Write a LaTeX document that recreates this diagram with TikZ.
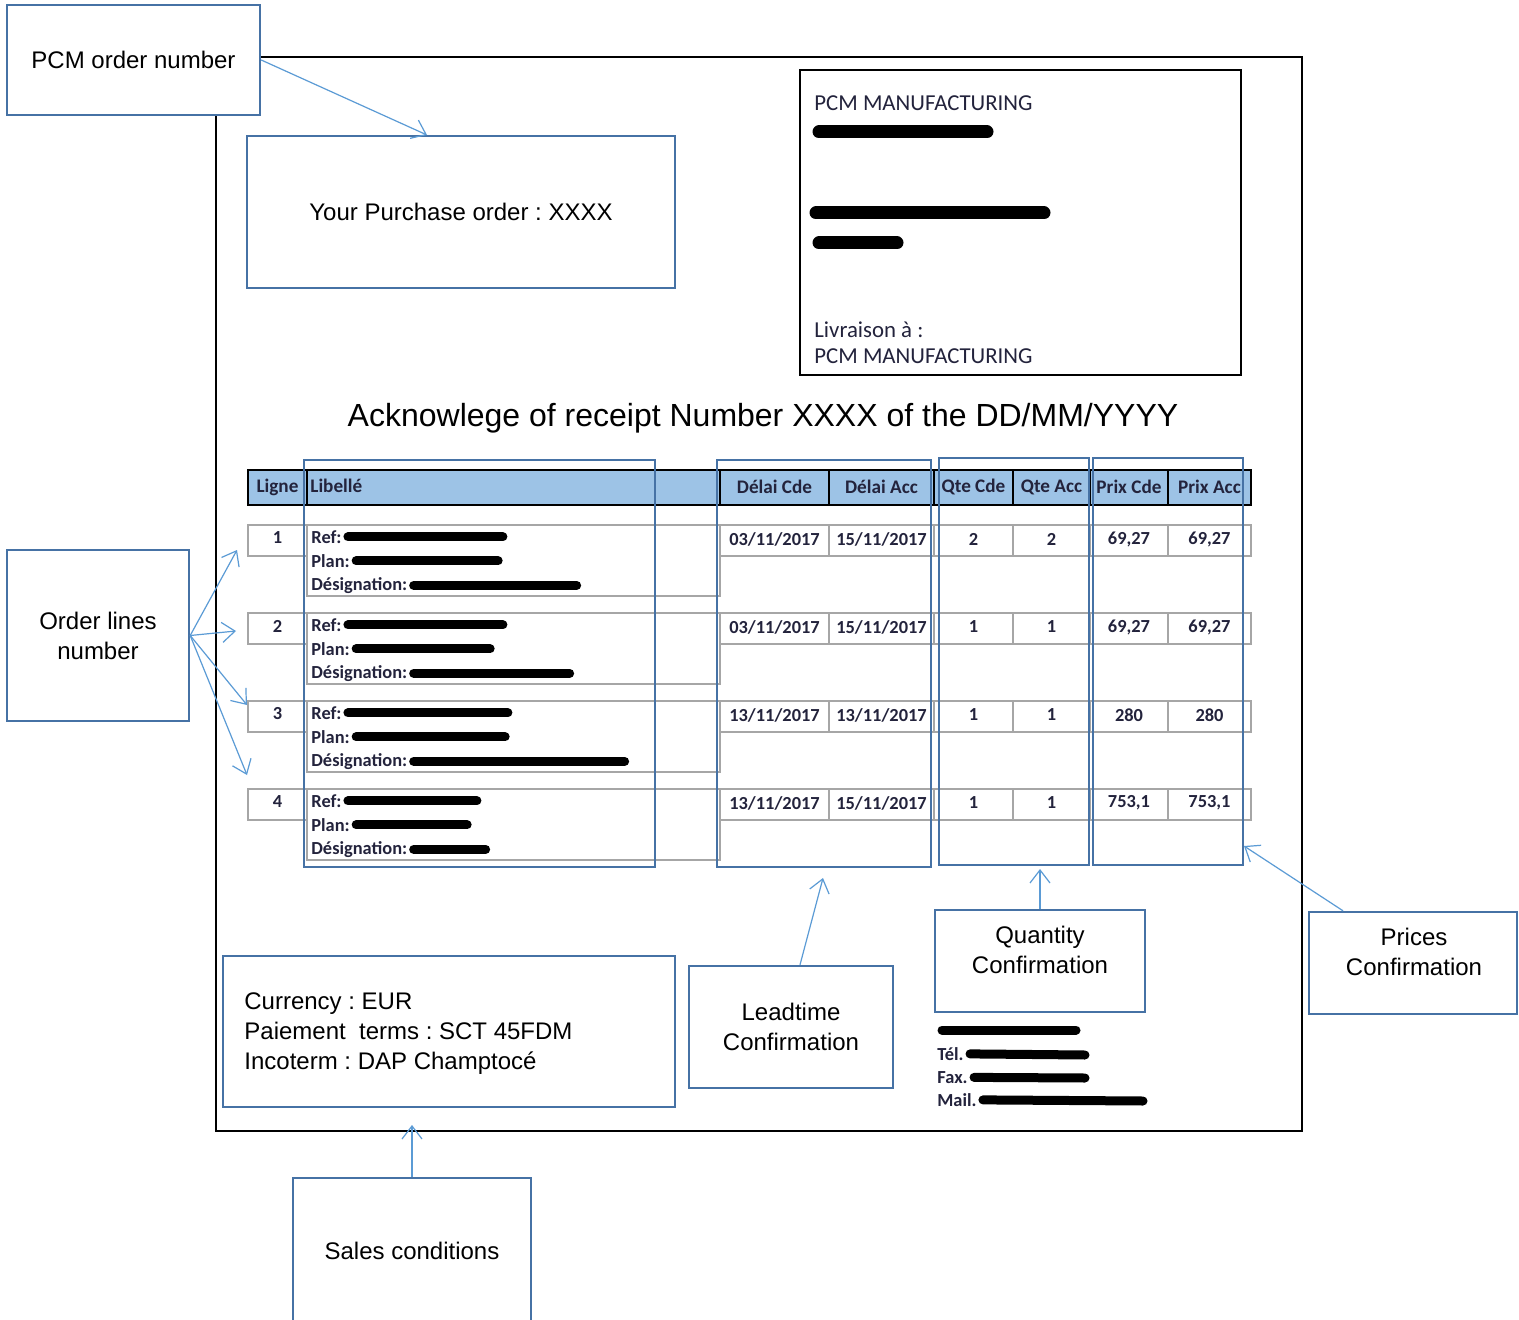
\documentclass[tikz,border=0pt]{standalone}
\usepackage{fontspec}
\setmainfont{Liberation Sans}
\newfontfamily\calib{Carlito}
\usetikzlibrary{arrows.meta,calc}
\definecolor{boxblue}{RGB}{70,114,165}
\definecolor{arrblue}{RGB}{91,155,213}
\definecolor{hdrblue}{RGB}{157,195,230}
\definecolor{cellgray}{RGB}{166,166,166}
\definecolor{doctext}{RGB}{35,35,60}
\begin{document}
\frenchspacing
\begin{tikzpicture}[x=0.5pt,y=-0.5pt,
  box/.style={draw=boxblue,line width=1.2pt,fill=white,inner sep=0pt},
  lbl/.style={font=\fontsize{12}{15}\selectfont,align=center,inner sep=0pt},
  arr/.style={draw=arrblue,line width=0.6pt,-{Straight Barb[length=6.5pt,width=10pt]}},
  hl/.style={draw=boxblue,line width=1.3pt},
  hcell/.style={draw=black,line width=1pt,fill=hdrblue},
  dcell/.style={draw=cellgray,line width=1.4pt},
  tt/.style={font=\calib\bfseries\fontsize{9.2}{10}\selectfont,text=doctext,inner sep=0pt},
  ht/.style={font=\calib\bfseries\fontsize{9.6}{10}\selectfont,text=doctext,inner sep=0pt},
  addr/.style={font=\calib\fontsize{11.4}{13}\selectfont,text=doctext,inner sep=0pt,anchor=mid west},
  redact/.style={line width=4.5pt,line cap=round,black},
  redactb/.style={line width=6.5pt,line cap=round,black},
]
\useasboundingbox (0,0) rectangle (1519,1320);
\fill[white] (0,0) rectangle (1519,1320);

% document page frame
\draw[black,line width=1pt] (216,57) rectangle (1302,1131);

% address box
\draw[black,line width=1pt] (800,70) rectangle (1241,375);
\node[addr] (ad1) at (814,105) {PCM MANUFACTURING};
\draw[redactb] (819,132) -- (987,132);
\draw[redactb] (816,213) -- (1044,213);
\draw[redactb] (819,243) -- (897,243);
\node[addr] (ad2) at (814,332) {Livraison à :};
\node[addr] (ad3) at (814,358) {PCM MANUFACTURING};

% title
\node[font=\fontsize{16}{19}\selectfont,inner sep=0pt] (title) at (763,418) {Acknowlege of receipt Number XXXX of the DD/MM/YYYY};

% table header
\foreach \xa/\xb in {248/307,307/720,720/829,829/934,934/1013,1013/1090,1090/1168,1168/1251}
  \draw[hcell] (\xa,470) rectangle (\xb,505);
\node[ht] (hlg) at (277.5,487) {Ligne};
\node[ht,anchor=mid west] (hlb) at (310,487) {Libellé};
\node[ht] (hdc) at (774.5,487) {Délai Cde};
\node[ht] (hda) at (881.5,487) {Délai Acc};
\node[ht] (hqc) at (973.5,487) {Qte Cde};
\node[ht] (hqa) at (1051.5,487) {Qte Acc};
\node[ht] (hpc) at (1129,487) {Prix Cde};
\node[ht] (hpa) at (1209.5,487) {Prix Acc};

% table rows
\foreach \i/\t/\dc/\da/\q/\p/\ba/\bb/\bc in {
  1/525/03/15/2/{69,27}/155/142/163,
  2/613/03/15/1/{69,27}/155/134/156,
  3/701/13/13/1/280/160/149/211,
  4/789/13/15/1/{753,1}/129/111/72}
{
  \draw[dcell] (248,\t) rectangle (307,\t+31);
  \draw[dcell] (307,\t) rectangle (720,\t+71);
  \foreach \xa/\xb in {720/829,829/934,934/1013,1013/1090,1090/1168,1168/1251}
    \draw[dcell] (\xa,\t) rectangle (\xb,\t+31);
  \node[tt] (lg\i) at (277.5,\t+13) {\i};
  \node[tt,anchor=mid west] (ra\i) at (311,\t+13) {Ref:};
  \node[tt,anchor=mid west] (rb\i) at (311,\t+37) {Plan:};
  \node[tt,anchor=mid west] (rc\i) at (311,\t+60) {Désignation:};
  \draw[redact] ([xshift=3pt]ra\i.east) -- ++(\ba,0);
  \draw[redact] ([xshift=3pt]rb\i.east) -- ++(\bb,0);
  \draw[redact] ([xshift=3pt]rc\i.east) -- ++(\bc,0);
  \node[tt] (dc\i) at (774.5,\t+14) {\dc/11/2017};
  \node[tt] (da\i) at (881.5,\t+14) {\da/11/2017};
  \node[tt] (qc\i) at (973.5,\t+14) {\q};
  \node[tt] (qa\i) at (1051.5,\t+14) {\q};
  \node[tt] (pc\i) at (1129,\t+14) {\p};
  \node[tt] (pa\i) at (1209.5,\t+14) {\p};
}

% highlight rectangles
\draw[hl] (304,460) rectangle (655,867);
\draw[hl] (717,460) rectangle (931,867);
\draw[hl] (939,458) rectangle (1089,865);
\draw[hl] (1093,458) rectangle (1243,865);

% contact block
\draw[redact] (942,1030) -- (1076,1030);
\node[tt,anchor=mid west] (tel) at (937,1055) {Tél.};
\node[tt,anchor=mid west] (fax) at (937,1078) {Fax.};
\node[tt,anchor=mid west] (mail) at (937,1101) {Mail.};
\draw[redact] ([xshift=3pt]tel.east) -- (1085,1055);
\draw[redact] ([xshift=3pt]fax.east) -- (1085,1078);
\draw[redact] ([xshift=3pt]mail.east) -- (1143,1101);

% annotation boxes
\node[box,lbl,minimum width=126.5pt,minimum height=55pt] (pcm) at (133.5,60) {PCM order number};
\node[box,lbl,minimum width=214pt,minimum height=76pt] (po) at (461,212) {Your Purchase order : XXXX};
\node[box,lbl,minimum width=91pt,minimum height=85.5pt] (oln) at (98,635.5) {Order lines\\number};
\node[box,minimum width=226pt,minimum height=75.5pt] (cur) at (449,1031.5) {};
\node[lbl,align=left,anchor=west] (curtxt) at (244,1034) {Currency : EUR\\Paiement\ \ terms : SCT 45FDM\\Incoterm : DAP Champtocé};
\node[box,lbl,minimum width=119pt,minimum height=73pt] (sales) at (412,1251) {Sales conditions};
\node[box,lbl,minimum width=102pt,minimum height=61pt] (lead) at (791,1027) {Leadtime\\Confirmation};
\node[box,minimum width=105pt,minimum height=51pt] (qty) at (1040,961) {};
\node[lbl] (qtytxt) at (1040,950) {Quantity\\Confirmation};
\node[box,minimum width=104pt,minimum height=51pt] (price) at (1413,963) {};
\node[lbl] (pricetxt) at (1414,952) {Prices\\Confirmation};

% arrow targets
\coordinate (tpo) at (427,135);
\coordinate (t1) at (237,550);
\coordinate (t2) at (236,631);
\coordinate (t3) at (247,705);
\coordinate (t4) at (247,775);
\coordinate (tsales) at (412,1125);
\coordinate (tlead) at (823,878);
\coordinate (tqty) at (1040,869);
\coordinate (tprice) at (1244,846);

% connectors
\draw[arr] (pcm.east) -- (tpo);
\draw[arr] (oln.east) -- (t1);
\draw[arr] (oln.east) -- (t2);
\draw[arr] (oln.east) -- (t3);
\draw[arr] (oln.east) -- (t4);
\draw[arr] (sales.north) -- (tsales);
\draw[arr] ([xshift=4.5pt]lead.north) -- (tlead);
\draw[arr] (qty.north) -- (tqty);
\draw[arr] ([xshift=-35pt]price.north) -- (tprice);
\end{tikzpicture}
\end{document}
